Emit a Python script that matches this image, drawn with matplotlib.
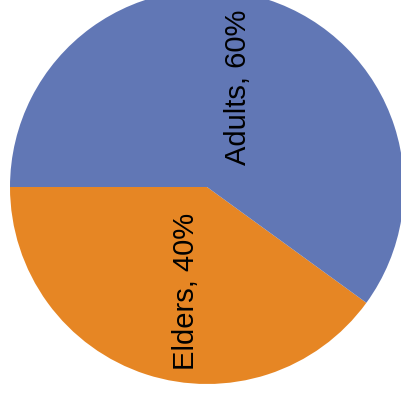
import matplotlib.pyplot as plt

labels = ['Elders', 'Adults']
shares = [40, 60]
colors = ['#e68624', '#6177b5']

fig = plt.figure(figsize=(4.01, 4.00), dpi=100)
ax = fig.add_axes([0, 0, 1, 1])

wedges, _ = ax.pie(shares, colors=colors, startangle=180, counterclock=True,
                   radius=1, center=(0, 0), wedgeprops=dict(linewidth=0))

# pixel layout: centre at (207, 187) from top-left, radius 197 px
ax.set_xlim(-207 / 197, (401 - 207) / 197)
ax.set_ylim(-(400 - 187) / 197, 187 / 197)
ax.set_aspect('auto')
ax.axis('off')

# labels, rotated like the original
text_pos = {'Adults': (0.155, 0.508), 'Elders': (-0.109, -0.530)}
for name, val in zip(labels, shares):
    x, y = text_pos[name]
    ax.text(x, y, f'{name}, {val}%', rotation=90, ha='center', va='center',
            fontsize=21, family='Liberation Sans', color='black')

fig.savefig('out.png', dpi=100)
